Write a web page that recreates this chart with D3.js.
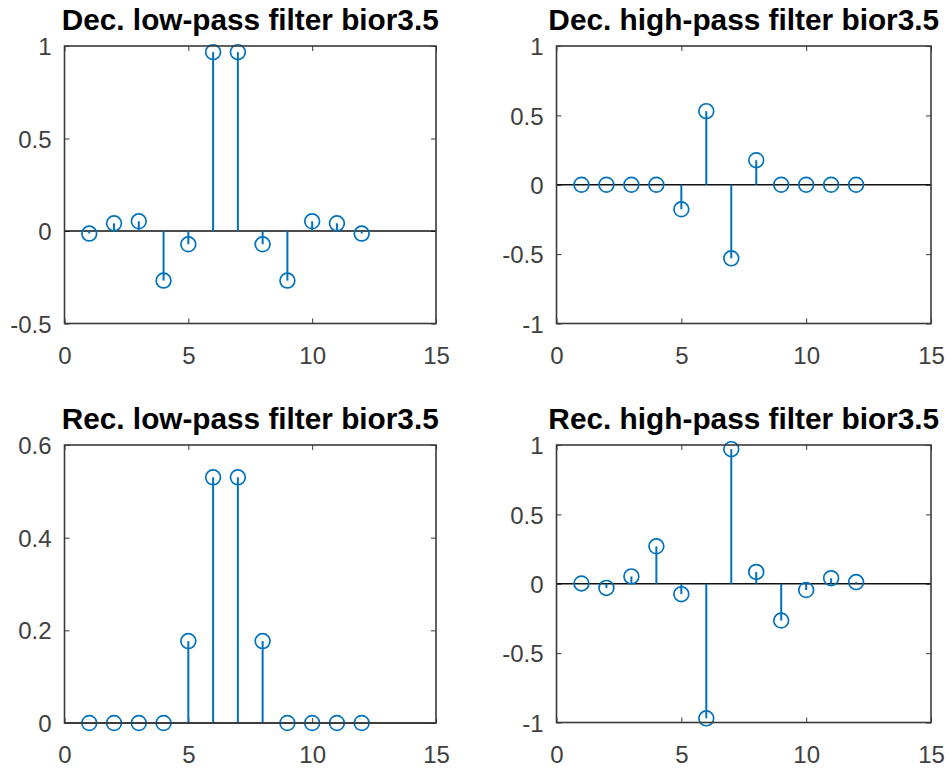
<!DOCTYPE html>
<html>
<head>
<meta charset="utf-8">
<script src="https://cdn.jsdelivr.net/npm/d3@7"></script>
<style>
  html, body { margin: 0; padding: 0; background: #ffffff; }
  svg { display: block; }
</style>
</head>
<body>
<svg id="chart" width="949" height="768"></svg>
<script>
// ---- data ----
const sampleIndex = [1, 2, 3, 4, 5, 6, 7, 8, 9, 10, 11, 12];
const decLowPass  = [-0.0138, 0.0414, 0.0525, -0.2679, -0.0718, 0.9667, 0.9667, -0.0718, -0.2679, 0.0525, 0.0414, -0.0138];
const decHighPass = [0, 0, 0, 0, -0.1768, 0.5303, -0.5303, 0.1768, 0, 0, 0, 0];
const recLowPass  = [0, 0, 0, 0, 0.1768, 0.5303, 0.5303, 0.1768, 0, 0, 0, 0];
const recHighPass = [0.002, -0.030, 0.053, 0.270, -0.075, -0.970, 0.970, 0.085, -0.265, -0.045, 0.040, 0.012];
const panelTitles = [
  "Dec. low-pass filter bior3.5",
  "Dec. high-pass filter bior3.5",
  "Rec. low-pass filter bior3.5",
  "Rec. high-pass filter bior3.5"
];
const xTickValues = [0, 5, 10, 15];
const yTicksDecLow  = [-0.5, 0, 0.5, 1];
const yTicksDecHigh = [-1, -0.5, 0, 0.5, 1];
const yTicksRecLow  = [0, 0.2, 0.4, 0.6];
const yTicksRecHigh = [-1, -0.5, 0, 0.5, 1];

// ---- layout ----
const panels = [
  { title: panelTitles[0], values: decLowPass,  yDomain: [-0.5, 1], yTicks: yTicksDecLow,  box: [64.5, 436, 46, 323.5], titleY: 29.5, titleW: 377 },
  { title: panelTitles[1], values: decHighPass, yDomain: [-1, 1],   yTicks: yTicksDecHigh, box: [556.5, 931, 46, 323.5], titleY: 29.5, titleW: 391 },
  { title: panelTitles[2], values: recLowPass,  yDomain: [0, 0.6],  yTicks: yTicksRecLow,  box: [64.5, 436, 445, 723],   titleY: 429,  titleW: 377 },
  { title: panelTitles[3], values: recHighPass, yDomain: [-1, 1],   yTicks: yTicksRecHigh, box: [556.5, 931, 445, 722.5], titleY: 429,  titleW: 391 }
];

const axisColor = "#3a3a3a";
const labelColor = "#404040";
const stemColor = "#0072BD";
const fontFamily = "'Liberation Sans', Arial, Helvetica, sans-serif";

const svg = d3.select("#chart");

panels.forEach(p => {
  const [x0, x1, y0, y1] = p.box;
  const x = d3.scaleLinear().domain([0, 15]).range([x0, x1]);
  const y = d3.scaleLinear().domain(p.yDomain).range([y1, y0]);
  const g = svg.append("g");

  const fmt = d => String(d);

  // axes with inward ticks
  const bottom = g.append("g").attr("transform", `translate(0,${y1})`)
    .call(d3.axisBottom(x).tickValues(xTickValues).tickSize(-5).tickSizeOuter(0).tickPadding(23).tickFormat(fmt));
  const top = g.append("g").attr("transform", `translate(0,${y0})`)
    .call(d3.axisTop(x).tickValues(xTickValues).tickSize(-5).tickSizeOuter(0).tickFormat(""));
  const left = g.append("g").attr("transform", `translate(${x0},0)`)
    .call(d3.axisLeft(y).tickValues(p.yTicks).tickSize(-5).tickSizeOuter(0).tickPadding(13).tickFormat(fmt));
  const right = g.append("g").attr("transform", `translate(${x1},0)`)
    .call(d3.axisRight(y).tickValues(p.yTicks).tickSize(-5).tickSizeOuter(0).tickFormat(""));

  [bottom, top, left, right].forEach(a => {
    a.select(".domain").remove();
    a.selectAll(".tick line").attr("stroke", axisColor).attr("stroke-width", 1);
    a.selectAll(".tick text")
      .attr("fill", labelColor)
      .style("font-family", fontFamily)
      .style("font-size", "24px");
  });
  bottom.selectAll(".tick text").attr("dy", "0.72em");
  left.selectAll(".tick text").attr("dy", "0.36em");

  // baseline at zero
  g.append("line")
    .attr("x1", x0).attr("x2", x1)
    .attr("y1", y(0)).attr("y2", y(0))
    .attr("stroke", "#111111").attr("stroke-width", 1.6);

  // stems
  g.selectAll("line.stem").data(p.values).join("line")
    .attr("class", "stem")
    .attr("x1", (d, i) => x(sampleIndex[i])).attr("x2", (d, i) => x(sampleIndex[i]))
    .attr("y1", y(0)).attr("y2", d => y(d))
    .attr("stroke", stemColor).attr("stroke-width", 2);

  // markers
  g.selectAll("circle.mk").data(p.values).join("circle")
    .attr("class", "mk")
    .attr("cx", (d, i) => x(sampleIndex[i])).attr("cy", d => y(d))
    .attr("r", 7.4)
    .attr("fill", "none").attr("stroke", stemColor).attr("stroke-width", 1.7);

  // box
  g.append("rect")
    .attr("x", x0).attr("y", y0).attr("width", x1 - x0).attr("height", y1 - y0)
    .attr("fill", "none").attr("stroke", axisColor).attr("stroke-width", 1.6);

  // title
  const t = g.append("text")
    .attr("x", (x0 + x1) / 2).attr("y", p.titleY)
    .attr("text-anchor", "middle")
    .attr("fill", "#000000")
    .style("font-family", fontFamily)
    .style("font-weight", "bold")
    .style("font-size", "24px")
    .text(p.title);
  const w = t.node().getComputedTextLength();
  if (w > 0) t.style("font-size", (24 * p.titleW / w).toFixed(2) + "px");
});
</script>
</body>
</html>
